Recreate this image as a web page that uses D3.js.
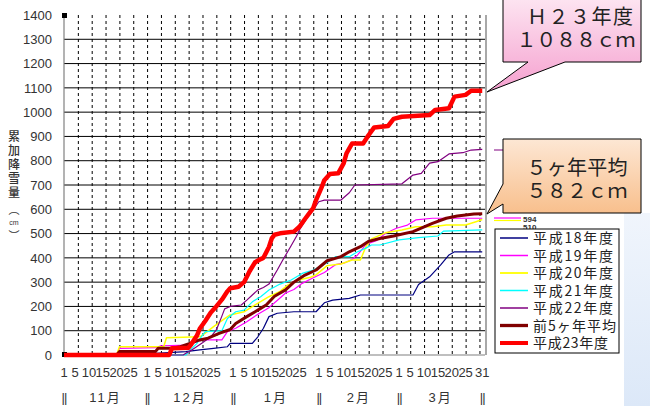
<!DOCTYPE html>
<html>
<head>
<meta charset="utf-8">
<script src="https://cdn.jsdelivr.net/npm/d3@7"></script>
<style>
body { margin: 0; background: #fff; }
text { font-family: "Liberation Sans", Arial, "Noto Sans CJK JP", sans-serif; }
.jp { font-family: "Noto Sans CJK JP", sans-serif; }
</style>
</head>
<body>
<script>
const SvgWidth = 650, SvgHeight = 406;
var plot = {left: 64, top: 15, right: 485, bottom: 355};

// day index: 0 = Nov 1, 151 = Mar 31
var monthStarts = [0, 30, 61, 92, 121];
var monthNames = ["11月", "12月", "1月", "2月", "3月"];
var dayTicks = [1, 5, 10, 15, 20, 25];
var yTicks = [0, 100, 200, 300, 400, 500, 600, 700, 800, 900, 1000, 1100, 1200, 1300, 1400];

// cumulative snowfall readings [day index, cm]
var h18 = [[0,0],[32,0],[33,7],[44,14],[49,21],[54,27],[59,34],[60,48],[68,48],[70,75],[72,110],[74,158],[77,172],[83,178],[91,178],[94,215],[97,226],[103,233],[107,247],[126,247],[128,290],[132,322],[136,371],[139,412],[141,425],[151,425]];
var h19 = [[0,0],[19,0],[20,27],[33,30],[35,38],[45,41],[48,55],[50,62],[57,62],[59,96],[62,110],[66,137],[70,168],[74,195],[78,235],[80,255],[83,270],[86,295],[90,318],[94,340],[98,372],[101,378],[104,393],[106,412],[109,455],[113,472],[116,500],[120,522],[124,535],[127,556],[133,563],[151,563]];
var h20 = [[0,0],[19,0],[20,34],[36,34],[37,71],[49,75],[51,90],[54,117],[58,150],[60,165],[65,178],[69,206],[74,240],[78,262],[81,290],[85,310],[89,320],[91,330],[95,368],[100,375],[104,391],[107,391],[109,446],[111,478],[116,503],[122,515],[127,528],[133,528],[138,535],[145,535],[149,550],[151,558]];
var h21 = [[0,0],[44,0],[45,14],[48,48],[50,82],[51,96],[57,100],[59,150],[62,178],[65,185],[68,219],[71,240],[74,268],[78,292],[82,309],[86,336],[90,350],[95,380],[98,405],[103,405],[106,425],[109,440],[111,453],[114,453],[121,474],[128,483],[135,490],[137,510],[151,515]];
var h22 = [[0,0],[43,0],[44,7],[46,20],[48,35],[50,50],[53,75],[55,103],[57,160],[58,190],[60,200],[64,206],[66,226],[68,247],[70,268],[72,278],[74,292],[77,350],[79,391],[82,450],[84,490],[85,515],[88,569],[90,597],[92,631],[94,638],[100,638],[103,668],[105,700],[122,705],[126,741],[129,748],[132,790],[135,796],[139,828],[144,833],[147,844],[151,847]];
var avg5 = [[0,0],[19,0],[20,14],[33,14],[34,28],[39,28],[42,34],[46,50],[49,62],[52,69],[56,89],[60,105],[62,130],[66,158],[69,178],[71,192],[73,206],[76,242],[80,268],[83,300],[87,329],[91,350],[95,388],[100,405],[103,425],[107,446],[110,468],[114,480],[119,490],[126,508],[133,542],[138,563],[142,572],[148,581],[151,582]];
var h23 = [[0,0],[38,0],[39,28],[45,30],[46,45],[48,80],[49,108],[51,140],[53,175],[55,200],[57,228],[59,262],[60,275],[63,281],[65,300],[67,345],[69,382],[71,395],[72,400],[74,445],[75,480],[76,495],[78,501],[83,508],[85,528],[87,560],[89,590],[90,605],[91,638],[93,690],[94,720],[96,745],[99,748],[101,790],[102,830],[104,871],[108,871],[110,906],[112,937],[117,943],[119,972],[122,981],[132,988],[134,1009],[139,1016],[141,1064],[145,1071],[147,1088],[151,1088]];

var seriesNames = ["平成18年度", "平成19年度", "平成20年度", "平成21年度", "平成22年度", "前5ヶ年平均", "平成23年度"];
var seriesData = [h18, h19, h20, h21, h22, avg5, h23];
var seriesColors = ["#000080", "#ff00ff", "#ffff00", "#00ffff", "#800080", "#800000", "#ff0000"];
var seriesWidths = [1.2, 1.2, 1.5, 1.2, 1.2, 3, 4.5];

var svg = d3.select('body')
	.append('svg')
	.attr('width', SvgWidth)
	.attr('height', SvgHeight)
	.style('background-color', 'white');

var defs = svg.append('defs');
function grad(id, c1, c2) {
	var g = defs.append('linearGradient').attr('id', id).attr('x1', 0).attr('y1', 0).attr('x2', 0).attr('y2', 1);
	g.append('stop').attr('offset', '0%').attr('stop-color', c1);
	g.append('stop').attr('offset', '100%').attr('stop-color', c2);
}
grad('pink', '#fde4f1', '#f5a0cf');
grad('peach', '#fde7d4', '#f8bf8c');
grad('blue', '#f0f5fc', '#dce8f8');

// pale panel bottom right
svg.append('rect').attr('x', 624).attr('y', 213).attr('width', 26).attr('height', 193).attr('fill', 'url(#blue)');

var x = d3.scaleLinear().domain([0, 152]).range([plot.left, plot.right]);
var y = d3.scaleLinear().domain([0, 1400]).range([plot.bottom, plot.top]);

// horizontal grid
svg.append('g').selectAll('line')
	.data(yTicks.filter(function(d){ return d > 0 && d < 1400; }))
	.enter().append('line')
	.attr('x1', plot.left).attr('x2', plot.right)
	.attr('y1', function(d){ return y(d); }).attr('y2', function(d){ return y(d); })
	.attr('stroke', '#000').attr('stroke-width', 1);

// vertical dashed grid every 5 days
svg.append('g').selectAll('line')
	.data(d3.range(5, 151, 5))
	.enter().append('line')
	.attr('x1', function(d){ return x(d) + 0.5; }).attr('x2', function(d){ return x(d) + 0.5; })
	.attr('y1', plot.top).attr('y2', plot.bottom)
	.attr('stroke', '#000').attr('stroke-width', 1).attr('stroke-dasharray', '3,3');

// frame
svg.append('line').attr('x1', plot.left).attr('x2', plot.left).attr('y1', plot.top).attr('y2', plot.bottom).attr('stroke', '#808080').attr('stroke-width', 1.2);
svg.append('line').attr('x1', plot.left).attr('x2', plot.right).attr('y1', plot.bottom).attr('y2', plot.bottom).attr('stroke', '#808080').attr('stroke-width', 1.2);
svg.append('line').attr('x1', plot.right + 1).attr('x2', plot.right + 1).attr('y1', plot.top).attr('y2', plot.bottom).attr('stroke', '#a8a8a8').attr('stroke-width', 2);
svg.append('rect').attr('x', plot.left - 2).attr('y', plot.top - 2).attr('width', 5).attr('height', 5).attr('fill', '#000');
svg.append('rect').attr('x', plot.left - 2).attr('y', plot.bottom - 3).attr('width', 5).attr('height', 5).attr('fill', '#000');

// y tick labels
svg.append('g').selectAll('text')
	.data(yTicks)
	.enter().append('text')
	.attr('x', 52).attr('y', function(d){ return y(d); })
	.attr('dy', '0.36em')
	.attr('text-anchor', 'end')
	.attr('font-size', 13).attr('fill', '#333')
	.text(function(d){ return d; });

// y title (vertical)
var titleChars = ["累", "加", "降", "雪", "量"];
svg.append('g').selectAll('text')
	.data(titleChars)
	.enter().append('text')
	.attr('class', 'jp')
	.attr('x', 14).attr('y', function(d, i){ return 141 + i * 14; })
	.attr('text-anchor', 'middle').attr('font-size', 12).attr('font-weight', 500).attr('fill', '#333')
	.text(function(d){ return d; });
svg.append('text').attr('class', 'jp').attr('x', 14).attr('y', 214).attr('text-anchor', 'middle').attr('font-size', 11).attr('fill', '#333').text('︵');
svg.append('text').attr('x', 14).attr('y', 225).attr('text-anchor', 'middle').attr('font-size', 7).attr('fill', '#333').text('cm');
svg.append('text').attr('class', 'jp').attr('x', 14).attr('y', 240).attr('text-anchor', 'middle').attr('font-size', 11).attr('fill', '#333').text('︶');

// x tick labels
var xLabels = [];
monthStarts.forEach(function(s){
	dayTicks.forEach(function(d){ xLabels.push({i: s + d - 1, t: d}); });
});
xLabels.push({i: 151, t: 31});
svg.append('g').selectAll('text')
	.data(xLabels)
	.enter().append('text')
	.attr('x', function(d){ return x(d.i); }).attr('y', 377)
	.attr('text-anchor', 'middle').attr('font-size', 13).attr('fill', '#333')
	.text(function(d){ return d.t; });

// month separators and names
var sepDays = monthStarts.concat([151]);
svg.append('g').selectAll('text')
	.data(sepDays)
	.enter().append('text')
	.attr('x', function(d){ return x(d); }).attr('y', 402)
	.attr('text-anchor', 'middle').attr('font-size', 13).attr('fill', '#333')
	.attr('letter-spacing', '-1')
	.text('||');
svg.append('g').selectAll('text')
	.data(monthNames)
	.enter().append('text')
	.attr('x', function(d, i){ return (x(sepDays[i]) + x(sepDays[i + 1])) / 2; }).attr('y', 402)
	.attr('text-anchor', 'middle').attr('font-size', 13).attr('fill', '#333')
	.attr('letter-spacing', '2')
	.text(function(d){ return d; });

// series lines
var line = d3.line()
	.x(function(d){ return x(d[0]); })
	.y(function(d){ return y(d[1]); });
svg.append('g').selectAll('path')
	.data(seriesData)
	.enter().append('path')
	.attr('fill', 'none')
	.attr('stroke', function(d, i){ return seriesColors[i]; })
	.attr('stroke-width', function(d, i){ return seriesWidths[i]; })
	.attr('stroke-linejoin', 'round')
	.attr('d', line);

// stray value marks to the right of the plot
svg.append('line').attr('x1', 494).attr('x2', 503).attr('y1', 150).attr('y2', 150).attr('stroke', '#800080').attr('stroke-width', 1);
svg.append('line').attr('x1', 494).attr('x2', 521).attr('y1', 218).attr('y2', 218).attr('stroke', '#ff00ff').attr('stroke-width', 1.2);
svg.append('line').attr('x1', 494).attr('x2', 521).attr('y1', 220.5).attr('y2', 220.5).attr('stroke', '#ffff00').attr('stroke-width', 1.2);
svg.append('text').attr('x', 523).attr('y', 222).attr('font-size', 8).attr('font-weight', 'bold').attr('fill', '#333').text('594');
svg.append('text').attr('x', 523).attr('y', 230).attr('font-size', 8).attr('font-weight', 'bold').attr('fill', '#333').text('510');

// legend
var legend = svg.append('g');
legend.append('rect').attr('x', 495).attr('y', 229).attr('width', 124).attr('height', 124)
	.attr('fill', '#fff').attr('stroke', '#000').attr('stroke-width', 1);
var legendLen = [80, 80, 80, 80, 80, 83, 75];
var rows = legend.selectAll('g.row')
	.data(seriesNames)
	.enter().append('g').attr('class', 'row')
	.attr('transform', function(d, i){ return 'translate(0,' + (238 + i * 17.5) + ')'; });
rows.append('line')
	.attr('x1', 500).attr('x2', 528).attr('y1', 0).attr('y2', 0)
	.attr('stroke', function(d, i){ return seriesColors[i]; })
	.attr('stroke-width', function(d, i){ return Math.min(seriesWidths[i] + 0.3, 4); });
rows.append('text')
	.attr('class', 'jp')
	.attr('x', 533).attr('y', 0).attr('dy', '0.36em')
	.attr('font-size', 14).attr('fill', '#222')
	.attr('textLength', function(d, i){ return legendLen[i]; })
	.attr('lengthAdjust', 'spacing')
	.text(function(d){ return d; });

// callouts
svg.append('path')
	.attr('d', 'M503,-1 L641,-1 L641,62 L565,62 L487,92 L528,62 L503,62 Z')
	.attr('fill', 'url(#pink)').attr('stroke', '#000').attr('stroke-width', 1);
svg.append('path')
	.attr('d', 'M503,139 L641,139 L641,213 L503,213 L503,204 L487,214 L503,184 Z')
	.attr('fill', 'url(#peach)').attr('stroke', '#000').attr('stroke-width', 1);
var callText = [
	{t: 'Ｈ２３年度', x: 580, y: 24, w: 106},
	{t: '１０８８ｃｍ', x: 576, y: 47, w: 119},
	{t: '５ヶ年平均', x: 577, y: 175, w: 101},
	{t: '５８２ｃｍ', x: 577, y: 198, w: 101}
];
svg.append('g').selectAll('text')
	.data(callText)
	.enter().append('text')
	.attr('class', 'jp')
	.attr('x', function(d){ return d.x - d.w / 2; }).attr('y', function(d){ return d.y; })
	.attr('font-size', 20).attr('font-weight', 400).attr('fill', '#222')
	.attr('textLength', function(d){ return d.w; })
	.attr('lengthAdjust', 'spacing')
	.text(function(d){ return d.t; });
</script>
</body>
</html>
